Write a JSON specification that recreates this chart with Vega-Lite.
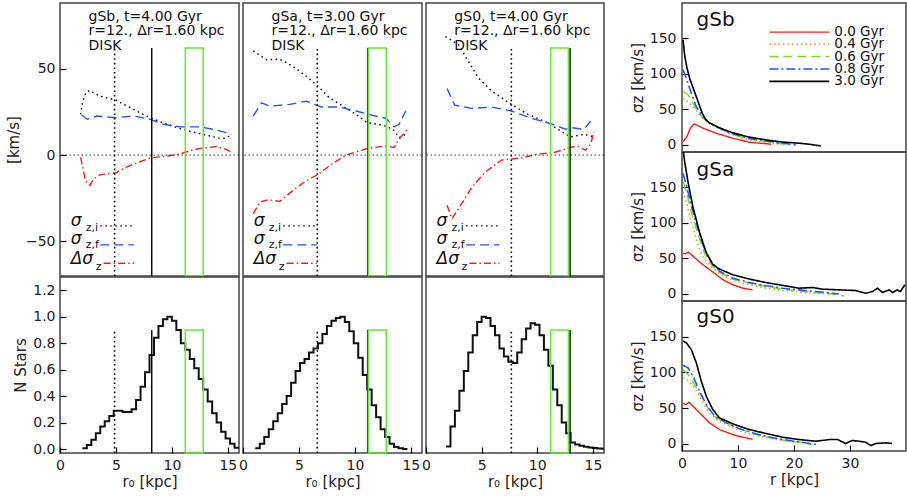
{
"$schema":"https://vega.github.io/schema/vega-lite/v6.json",
"padding":{"left":5,"top":2,"right":0,"bottom":0},
"background":"white",
"config":{
 "view":{"stroke":"#444","strokeWidth":1.5},
 "font":"DejaVu Sans",
 "text":{"font":"DejaVu Sans","color":"#111"},
 "axis":{"domain":false,"grid":false,"ticks":true,"labelFont":"DejaVu Sans","labelFontSize":14,"labelColor":"#222","titleFont":"DejaVu Sans","titleFontSize":15,"titleFontWeight":"normal","titleColor":"#222","tickColor":"#000","tickWidth":1.2,"tickOpacity":1}
},
"datasets":{
 "prof":[
  {"p":"gSb","s":"i","x":1.84,"y":23.5},{"p":"gSb","s":"i","x":2.0,"y":30},{"p":"gSb","s":"i","x":2.3,"y":36},{"p":"gSb","s":"i","x":2.67,"y":37.5},{"p":"gSb","s":"i","x":3.0,"y":36},{"p":"gSb","s":"i","x":3.62,"y":34},{"p":"gSb","s":"i","x":4.95,"y":32},{"p":"gSb","s":"i","x":5.8,"y":29},{"p":"gSb","s":"i","x":6.58,"y":26.4},{"p":"gSb","s":"i","x":7.3,"y":24},{"p":"gSb","s":"i","x":8.06,"y":21.6},{"p":"gSb","s":"i","x":8.95,"y":19.3},{"p":"gSb","s":"i","x":9.7,"y":17.5},{"p":"gSb","s":"i","x":10.43,"y":15.9},{"p":"gSb","s":"i","x":11.5,"y":14},{"p":"gSb","s":"i","x":12.5,"y":12.4},{"p":"gSb","s":"i","x":13.3,"y":11.2},{"p":"gSb","s":"i","x":13.99,"y":10.1},{"p":"gSb","s":"i","x":14.5,"y":9.6},{"p":"gSb","s":"i","x":14.88,"y":9.8},{"p":"gSb","s":"i","x":15.3,"y":12},
  {"p":"gSb","s":"f","x":1.93,"y":23.2},{"p":"gSb","s":"f","x":2.43,"y":20.7},{"p":"gSb","s":"f","x":3.32,"y":22.6},{"p":"gSb","s":"f","x":4.95,"y":21.6},{"p":"gSb","s":"f","x":6.58,"y":22.6},{"p":"gSb","s":"f","x":8.06,"y":20.7},{"p":"gSb","s":"f","x":9.24,"y":17.8},{"p":"gSb","s":"f","x":10.73,"y":16.3},{"p":"gSb","s":"f","x":12.5,"y":16.3},{"p":"gSb","s":"f","x":13.7,"y":14.9},{"p":"gSb","s":"f","x":14.88,"y":13},{"p":"gSb","s":"f","x":15.3,"y":11.7},
  {"p":"gSb","s":"d","x":1.84,"y":-1.4},{"p":"gSb","s":"d","x":2.0,"y":-6},{"p":"gSb","s":"d","x":2.28,"y":-14.8},{"p":"gSb","s":"d","x":2.67,"y":-17.6},{"p":"gSb","s":"d","x":3.02,"y":-13.8},{"p":"gSb","s":"d","x":3.62,"y":-11.3},{"p":"gSb","s":"d","x":4.95,"y":-10.4},{"p":"gSb","s":"d","x":5.8,"y":-7.5},{"p":"gSb","s":"d","x":6.58,"y":-5.2},{"p":"gSb","s":"d","x":8.06,"y":-1.7},{"p":"gSb","s":"d","x":9.55,"y":-0.6},{"p":"gSb","s":"d","x":10.73,"y":0.6},{"p":"gSb","s":"d","x":11.61,"y":2.5},{"p":"gSb","s":"d","x":12.5,"y":3.8},{"p":"gSb","s":"d","x":13.99,"y":4.9},{"p":"gSb","s":"d","x":14.88,"y":3.3},{"p":"gSb","s":"d","x":15.3,"y":1.5},
  {"p":"gSa","s":"i","x":0.92,"y":60.3},{"p":"gSa","s":"i","x":2.1,"y":55.2},{"p":"gSa","s":"i","x":3.29,"y":55.5},{"p":"gSa","s":"i","x":4.47,"y":51.3},{"p":"gSa","s":"i","x":5.66,"y":45.6},{"p":"gSa","s":"i","x":6.7,"y":39.8},{"p":"gSa","s":"i","x":7.73,"y":33.1},{"p":"gSa","s":"i","x":8.92,"y":28.3},{"p":"gSa","s":"i","x":10.1,"y":23.6},{"p":"gSa","s":"i","x":11.1,"y":18.7},{"p":"gSa","s":"i","x":12.5,"y":17.4},{"p":"gSa","s":"i","x":13.4,"y":14.9},{"p":"gSa","s":"i","x":13.95,"y":10.1},{"p":"gSa","s":"i","x":14.55,"y":12},
  {"p":"gSa","s":"f","x":0.92,"y":22.6},{"p":"gSa","s":"f","x":1.66,"y":30.2},{"p":"gSa","s":"f","x":2.4,"y":28.3},{"p":"gSa","s":"f","x":4.18,"y":29.3},{"p":"gSa","s":"f","x":5.66,"y":31.2},{"p":"gSa","s":"f","x":7.0,"y":27.8},{"p":"gSa","s":"f","x":8.62,"y":27.8},{"p":"gSa","s":"f","x":10.1,"y":25.5},{"p":"gSa","s":"f","x":11.58,"y":23},{"p":"gSa","s":"f","x":12.77,"y":21.3},{"p":"gSa","s":"f","x":13.5,"y":16.3},{"p":"gSa","s":"f","x":13.95,"y":17.8},{"p":"gSa","s":"f","x":14.55,"y":25.5},
  {"p":"gSa","s":"d","x":0.92,"y":-33.9},{"p":"gSa","s":"d","x":1.51,"y":-27.2},{"p":"gSa","s":"d","x":2.25,"y":-25.9},{"p":"gSa","s":"d","x":3.29,"y":-26.8},{"p":"gSa","s":"d","x":4.47,"y":-20.5},{"p":"gSa","s":"d","x":5.66,"y":-14.8},{"p":"gSa","s":"d","x":6.7,"y":-11.3},{"p":"gSa","s":"d","x":7.73,"y":-6.1},{"p":"gSa","s":"d","x":9.2,"y":0},{"p":"gSa","s":"d","x":11.1,"y":3.8},{"p":"gSa","s":"d","x":12.77,"y":5.3},{"p":"gSa","s":"d","x":13.5,"y":4.4},{"p":"gSa","s":"d","x":13.95,"y":9.2},{"p":"gSa","s":"d","x":14.7,"y":14.9},
  {"p":"gS0","s":"i","x":1.75,"y":68.6},{"p":"gS0","s":"i","x":2.93,"y":63.8},{"p":"gS0","s":"i","x":3.82,"y":54.2},{"p":"gS0","s":"i","x":4.71,"y":44.6},{"p":"gS0","s":"i","x":5.9,"y":37},{"p":"gS0","s":"i","x":7.67,"y":29.3},{"p":"gS0","s":"i","x":9.16,"y":23.6},{"p":"gS0","s":"i","x":10.93,"y":18.7},{"p":"gS0","s":"i","x":12.56,"y":12.1},{"p":"gS0","s":"i","x":13.0,"y":10.5},{"p":"gS0","s":"i","x":14.2,"y":12},{"p":"gS0","s":"i","x":14.8,"y":11.1},{"p":"gS0","s":"i","x":15.2,"y":10.1},
  {"p":"gS0","s":"f","x":1.89,"y":38.5},{"p":"gS0","s":"f","x":2.58,"y":28.9},{"p":"gS0","s":"f","x":4.12,"y":27},{"p":"gS0","s":"f","x":5.9,"y":27.8},{"p":"gS0","s":"f","x":7.67,"y":25.5},{"p":"gS0","s":"f","x":9.45,"y":21.3},{"p":"gS0","s":"f","x":11.23,"y":18.2},{"p":"gS0","s":"f","x":12.56,"y":14.9},{"p":"gS0","s":"f","x":13.0,"y":15.9},{"p":"gS0","s":"f","x":14.2,"y":14.9},{"p":"gS0","s":"f","x":14.8,"y":19.7},
  {"p":"gS0","s":"d","x":1.89,"y":-29.1},{"p":"gS0","s":"d","x":2.34,"y":-36.8},{"p":"gS0","s":"d","x":2.93,"y":-31},{"p":"gS0","s":"d","x":4.12,"y":-18.6},{"p":"gS0","s":"d","x":5.3,"y":-10},{"p":"gS0","s":"d","x":6.78,"y":-2.9},{"p":"gS0","s":"d","x":7.67,"y":-2.3},{"p":"gS0","s":"d","x":8.56,"y":-1.7},{"p":"gS0","s":"d","x":10.04,"y":0.6},{"p":"gS0","s":"d","x":11.53,"y":1.5},{"p":"gS0","s":"d","x":13.0,"y":4.4},{"p":"gS0","s":"d","x":13.6,"y":5.3},{"p":"gS0","s":"d","x":14.34,"y":2.9},{"p":"gS0","s":"d","x":14.8,"y":6.3},{"p":"gS0","s":"d","x":15.1,"y":13.6}
 ],
 "vl":[
  {"p":"gSb","k":"dot","x":4.88},{"p":"gSb","k":"solid","x":8.2},
  {"p":"gSa","k":"dot","x":6.64},{"p":"gSa","k":"solid","x":11.14},
  {"p":"gS0","k":"dot","x":7.67},{"p":"gS0","k":"solid","x":12.95}
 ],
 "hdr":[
  {"p":"gSb","y":80,"t":"gSb, t=4.00 Gyr"},{"p":"gSb","y":71.6,"t":"r=12., Δr=1.60 kpc"},{"p":"gSb","y":63.2,"t":"DISK"},
  {"p":"gSa","y":80,"t":"gSa, t=3.00 Gyr"},{"p":"gSa","y":71.6,"t":"r=12., Δr=1.60 kpc"},{"p":"gSa","y":63.2,"t":"DISK"},
  {"p":"gS0","y":80,"t":"gS0, t=4.00 Gyr"},{"p":"gS0","y":71.6,"t":"r=12., Δr=1.60 kpc"},{"p":"gS0","y":63.2,"t":"DISK"}
 ],
 "lgdbig":[{"x":0.95,"y":-38.2,"t":"σ"},{"x":0.95,"y":-48.4,"t":"σ"},{"x":0.95,"y":-60.0,"t":"Δσ"}],
 "lgdsub":[{"x":2.3,"y":-42.3,"t":"z,i"},{"x":2.3,"y":-52.0,"t":"z,f"},{"x":3.2,"y":-64.6,"t":"z"}],
 "lgdline":[{"s":"i","x":3.6,"x2":6.6,"y":-41},{"s":"f","x":3.6,"x2":6.6,"y":-52},{"s":"d","x":3.9,"x2":6.6,"y":-62.6}],
 "hist":[
  {"p":"gSb","x":2.0,"n":0.005},{"p":"gSb","x":2.4,"n":0.03},{"p":"gSb","x":2.8,"n":0.07},{"p":"gSb","x":3.2,"n":0.12},{"p":"gSb","x":3.6,"n":0.17},{"p":"gSb","x":4.0,"n":0.21},{"p":"gSb","x":4.4,"n":0.25},{"p":"gSb","x":4.8,"n":0.29},{"p":"gSb","x":5.2,"n":0.29},{"p":"gSb","x":5.6,"n":0.28},{"p":"gSb","x":6.0,"n":0.28},{"p":"gSb","x":6.4,"n":0.30},{"p":"gSb","x":6.8,"n":0.37},{"p":"gSb","x":7.2,"n":0.47},{"p":"gSb","x":7.6,"n":0.58},{"p":"gSb","x":8.0,"n":0.71},{"p":"gSb","x":8.4,"n":0.84},{"p":"gSb","x":8.8,"n":0.93},{"p":"gSb","x":9.2,"n":0.98},{"p":"gSb","x":9.6,"n":1.0},{"p":"gSb","x":10.0,"n":0.97},{"p":"gSb","x":10.4,"n":0.90},{"p":"gSb","x":10.8,"n":0.80},{"p":"gSb","x":11.2,"n":0.75},{"p":"gSb","x":11.6,"n":0.68},{"p":"gSb","x":12.0,"n":0.61},{"p":"gSb","x":12.4,"n":0.53},{"p":"gSb","x":12.8,"n":0.45},{"p":"gSb","x":13.2,"n":0.36},{"p":"gSb","x":13.6,"n":0.27},{"p":"gSb","x":14.0,"n":0.20},{"p":"gSb","x":14.4,"n":0.13},{"p":"gSb","x":14.8,"n":0.08},{"p":"gSb","x":15.2,"n":0.04},{"p":"gSb","x":15.6,"n":0.01},{"p":"gSb","x":16.0,"n":0.01},
  {"p":"gSa","x":1.1,"n":0.005},{"p":"gSa","x":1.5,"n":0.04},{"p":"gSa","x":1.9,"n":0.09},{"p":"gSa","x":2.3,"n":0.15},{"p":"gSa","x":2.7,"n":0.21},{"p":"gSa","x":3.1,"n":0.27},{"p":"gSa","x":3.5,"n":0.34},{"p":"gSa","x":3.9,"n":0.40},{"p":"gSa","x":4.3,"n":0.50},{"p":"gSa","x":4.7,"n":0.59},{"p":"gSa","x":5.1,"n":0.65},{"p":"gSa","x":5.5,"n":0.68},{"p":"gSa","x":5.9,"n":0.73},{"p":"gSa","x":6.3,"n":0.76},{"p":"gSa","x":6.7,"n":0.80},{"p":"gSa","x":7.1,"n":0.87},{"p":"gSa","x":7.5,"n":0.93},{"p":"gSa","x":7.9,"n":0.97},{"p":"gSa","x":8.3,"n":0.99},{"p":"gSa","x":8.7,"n":1.0},{"p":"gSa","x":9.1,"n":0.96},{"p":"gSa","x":9.5,"n":0.89},{"p":"gSa","x":9.9,"n":0.80},{"p":"gSa","x":10.3,"n":0.69},{"p":"gSa","x":10.7,"n":0.56},{"p":"gSa","x":11.1,"n":0.45},{"p":"gSa","x":11.5,"n":0.33},{"p":"gSa","x":11.9,"n":0.24},{"p":"gSa","x":12.3,"n":0.15},{"p":"gSa","x":12.7,"n":0.09},{"p":"gSa","x":13.1,"n":0.04},{"p":"gSa","x":13.5,"n":0.015},{"p":"gSa","x":13.9,"n":0.005},{"p":"gSa","x":14.3,"n":0.0},{"p":"gSa","x":14.7,"n":0.0},
  {"p":"gS0","x":1.8,"n":0.02},{"p":"gS0","x":2.2,"n":0.17},{"p":"gS0","x":2.6,"n":0.29},{"p":"gS0","x":3.0,"n":0.44},{"p":"gS0","x":3.4,"n":0.59},{"p":"gS0","x":3.8,"n":0.73},{"p":"gS0","x":4.2,"n":0.86},{"p":"gS0","x":4.6,"n":0.96},{"p":"gS0","x":5.0,"n":1.0},{"p":"gS0","x":5.4,"n":0.99},{"p":"gS0","x":5.8,"n":0.93},{"p":"gS0","x":6.2,"n":0.86},{"p":"gS0","x":6.6,"n":0.76},{"p":"gS0","x":7.0,"n":0.70},{"p":"gS0","x":7.4,"n":0.66},{"p":"gS0","x":7.8,"n":0.65},{"p":"gS0","x":8.2,"n":0.73},{"p":"gS0","x":8.6,"n":0.83},{"p":"gS0","x":9.0,"n":0.91},{"p":"gS0","x":9.4,"n":0.95},{"p":"gS0","x":9.8,"n":0.94},{"p":"gS0","x":10.2,"n":0.86},{"p":"gS0","x":10.6,"n":0.75},{"p":"gS0","x":11.0,"n":0.63},{"p":"gS0","x":11.4,"n":0.45},{"p":"gS0","x":11.8,"n":0.33},{"p":"gS0","x":12.2,"n":0.20},{"p":"gS0","x":12.6,"n":0.12},{"p":"gS0","x":13.0,"n":0.05},{"p":"gS0","x":13.4,"n":0.035},{"p":"gS0","x":13.8,"n":0.025},{"p":"gS0","x":14.2,"n":0.018},{"p":"gS0","x":14.6,"n":0.012},{"p":"gS0","x":15.0,"n":0.008},{"p":"gS0","x":15.4,"n":0.004},{"p":"gS0","x":15.8,"n":0.002},{"p":"gS0","x":16.2,"n":0.002}
 ],
 "rad":[
  {"g":"gSb","t":"0.0","r":0.18,"v":4.7},{"g":"gSb","t":"0.0","r":0.9,"v":11.8},{"g":"gSb","t":"0.0","r":1.48,"v":23.6},{"g":"gSb","t":"0.0","r":2.08,"v":29.2},{"g":"gSb","t":"0.0","r":2.55,"v":28.3},{"g":"gSb","t":"0.0","r":3.74,"v":23.6},{"g":"gSb","t":"0.0","r":6.1,"v":16.5},{"g":"gSb","t":"0.0","r":9.07,"v":9.4},{"g":"gSb","t":"0.0","r":12.0,"v":3.8},{"g":"gSb","t":"0.0","r":15.9,"v":1},
  {"g":"gSb","t":"0.4","r":0.18,"v":66},{"g":"gSb","t":"0.4","r":1.07,"v":61},{"g":"gSb","t":"0.4","r":1.96,"v":54},{"g":"gSb","t":"0.4","r":3.14,"v":42.5},{"g":"gSb","t":"0.4","r":4.33,"v":33},{"g":"gSb","t":"0.4","r":6.7,"v":22},{"g":"gSb","t":"0.4","r":9.07,"v":14},{"g":"gSb","t":"0.4","r":12.0,"v":7},{"g":"gSb","t":"0.4","r":15.0,"v":3.3},{"g":"gSb","t":"0.4","r":17.4,"v":0.5},
  {"g":"gSb","t":"0.6","r":0.18,"v":75.5},{"g":"gSb","t":"0.6","r":1.07,"v":70.8},{"g":"gSb","t":"0.6","r":1.96,"v":59},{"g":"gSb","t":"0.6","r":2.85,"v":47},{"g":"gSb","t":"0.6","r":3.74,"v":37.7},{"g":"gSb","t":"0.6","r":5.5,"v":28.3},{"g":"gSb","t":"0.6","r":9.07,"v":14.5},{"g":"gSb","t":"0.6","r":12.0,"v":8},{"g":"gSb","t":"0.6","r":15.0,"v":4.7},{"g":"gSb","t":"0.6","r":18.0,"v":1.4},{"g":"gSb","t":"0.6","r":19.2,"v":0},
  {"g":"gSb","t":"0.8","r":0.18,"v":106},{"g":"gSb","t":"0.8","r":0.77,"v":94},{"g":"gSb","t":"0.8","r":1.66,"v":73},{"g":"gSb","t":"0.8","r":2.55,"v":54},{"g":"gSb","t":"0.8","r":3.44,"v":42.5},{"g":"gSb","t":"0.8","r":4.92,"v":30.7},{"g":"gSb","t":"0.8","r":6.7,"v":23.6},{"g":"gSb","t":"0.8","r":9.07,"v":15.6},{"g":"gSb","t":"0.8","r":12.0,"v":9.4},{"g":"gSb","t":"0.8","r":15.0,"v":5.7},{"g":"gSb","t":"0.8","r":18.0,"v":2.4},{"g":"gSb","t":"0.8","r":20.3,"v":0},
  {"g":"gSb","t":"3.0","r":0.18,"v":148},{"g":"gSb","t":"3.0","r":0.5,"v":125},{"g":"gSb","t":"3.0","r":0.9,"v":108},{"g":"gSb","t":"3.0","r":1.4,"v":93},{"g":"gSb","t":"3.0","r":2.0,"v":80},{"g":"gSb","t":"3.0","r":2.6,"v":67},{"g":"gSb","t":"3.0","r":3.1,"v":56},{"g":"gSb","t":"3.0","r":3.6,"v":45},{"g":"gSb","t":"3.0","r":4.2,"v":36},{"g":"gSb","t":"3.0","r":4.9,"v":31},{"g":"gSb","t":"3.0","r":6.7,"v":24},{"g":"gSb","t":"3.0","r":9.07,"v":17},{"g":"gSb","t":"3.0","r":12.0,"v":11},{"g":"gSb","t":"3.0","r":15.0,"v":7},{"g":"gSb","t":"3.0","r":18.0,"v":4},{"g":"gSb","t":"3.0","r":20.9,"v":2.4},{"g":"gSb","t":"3.0","r":22.7,"v":1},{"g":"gSb","t":"3.0","r":24.8,"v":-1.5},
  {"g":"gSa","t":"0.0","r":0.18,"v":57},{"g":"gSa","t":"0.0","r":0.65,"v":56.7},{"g":"gSa","t":"0.0","r":1.07,"v":59},{"g":"gSa","t":"0.0","r":1.96,"v":53.3},{"g":"gSa","t":"0.0","r":3.14,"v":44.8},{"g":"gSa","t":"0.0","r":4.92,"v":34.3},{"g":"gSa","t":"0.0","r":7.3,"v":20},{"g":"gSa","t":"0.0","r":9.07,"v":12.9},{"g":"gSa","t":"0.0","r":10.85,"v":8},{"g":"gSa","t":"0.0","r":12.6,"v":5.7},
  {"g":"gSa","t":"0.4","r":0.18,"v":144},{"g":"gSa","t":"0.4","r":0.9,"v":125},{"g":"gSa","t":"0.4","r":1.66,"v":101},{"g":"gSa","t":"0.4","r":2.85,"v":67.6},{"g":"gSa","t":"0.4","r":4.0,"v":48.6},{"g":"gSa","t":"0.4","r":5.5,"v":36.7},{"g":"gSa","t":"0.4","r":6.7,"v":28.6},{"g":"gSa","t":"0.4","r":9.07,"v":19},{"g":"gSa","t":"0.4","r":12.0,"v":13},{"g":"gSa","t":"0.4","r":15.0,"v":8},{"g":"gSa","t":"0.4","r":18.0,"v":4.8},{"g":"gSa","t":"0.4","r":20.9,"v":2.4},{"g":"gSa","t":"0.4","r":23.9,"v":1},{"g":"gSa","t":"0.4","r":26.9,"v":0},
  {"g":"gSa","t":"0.6","r":0.18,"v":158},{"g":"gSa","t":"0.6","r":0.77,"v":144},{"g":"gSa","t":"0.6","r":1.66,"v":115},{"g":"gSa","t":"0.6","r":2.85,"v":84},{"g":"gSa","t":"0.6","r":4.0,"v":58},{"g":"gSa","t":"0.6","r":5.2,"v":41.4},{"g":"gSa","t":"0.6","r":6.7,"v":30.5},{"g":"gSa","t":"0.6","r":9.07,"v":21},{"g":"gSa","t":"0.6","r":12.0,"v":15},{"g":"gSa","t":"0.6","r":15.0,"v":10.5},{"g":"gSa","t":"0.6","r":18.0,"v":6.7},{"g":"gSa","t":"0.6","r":20.9,"v":4.3},{"g":"gSa","t":"0.6","r":23.9,"v":2},{"g":"gSa","t":"0.6","r":26.9,"v":0},{"g":"gSa","t":"0.6","r":28.9,"v":-3},
  {"g":"gSa","t":"0.8","r":0.18,"v":170},{"g":"gSa","t":"0.8","r":0.77,"v":153},{"g":"gSa","t":"0.8","r":1.66,"v":124.8},{"g":"gSa","t":"0.8","r":2.85,"v":91.4},{"g":"gSa","t":"0.8","r":4.0,"v":62.9},{"g":"gSa","t":"0.8","r":5.2,"v":46.2},{"g":"gSa","t":"0.8","r":6.7,"v":32},{"g":"gSa","t":"0.8","r":9.07,"v":22},{"g":"gSa","t":"0.8","r":12.0,"v":16},{"g":"gSa","t":"0.8","r":15.0,"v":11.4},{"g":"gSa","t":"0.8","r":18.0,"v":8},{"g":"gSa","t":"0.8","r":20.9,"v":5.7},{"g":"gSa","t":"0.8","r":23.9,"v":3.3},{"g":"gSa","t":"0.8","r":26.9,"v":1},{"g":"gSa","t":"0.8","r":28.0,"v":0},
  {"g":"gSa","t":"3.0","r":0.18,"v":205},{"g":"gSa","t":"3.0","r":0.47,"v":186.7},{"g":"gSa","t":"3.0","r":1.07,"v":158},{"g":"gSa","t":"3.0","r":1.96,"v":122},{"g":"gSa","t":"3.0","r":3.14,"v":86.7},{"g":"gSa","t":"3.0","r":4.33,"v":58},{"g":"gSa","t":"3.0","r":5.5,"v":41.4},{"g":"gSa","t":"3.0","r":6.7,"v":35},{"g":"gSa","t":"3.0","r":9.07,"v":27},{"g":"gSa","t":"3.0","r":12.0,"v":21},{"g":"gSa","t":"3.0","r":15.0,"v":16},{"g":"gSa","t":"3.0","r":18.0,"v":12},{"g":"gSa","t":"3.0","r":20.9,"v":8},{"g":"gSa","t":"3.0","r":23.3,"v":9},{"g":"gSa","t":"3.0","r":25.1,"v":6.7},{"g":"gSa","t":"3.0","r":28.0,"v":5.7},{"g":"gSa","t":"3.0","r":31.0,"v":4.8},{"g":"gSa","t":"3.0","r":32.8,"v":1},{"g":"gSa","t":"3.0","r":34.0,"v":3.3},{"g":"gSa","t":"3.0","r":34.9,"v":8},{"g":"gSa","t":"3.0","r":35.8,"v":2},{"g":"gSa","t":"3.0","r":37.0,"v":5.7},{"g":"gSa","t":"3.0","r":37.6,"v":2},{"g":"gSa","t":"3.0","r":38.4,"v":5.7},{"g":"gSa","t":"3.0","r":39.0,"v":3.3},{"g":"gSa","t":"3.0","r":39.8,"v":12.9},
  {"g":"gS0","t":"0.0","r":0.18,"v":56.5},{"g":"gS0","t":"0.0","r":0.77,"v":55},{"g":"gS0","t":"0.0","r":1.25,"v":58.4},{"g":"gS0","t":"0.0","r":1.96,"v":52.8},{"g":"gS0","t":"0.0","r":3.14,"v":43.5},{"g":"gS0","t":"0.0","r":4.92,"v":29.4},{"g":"gS0","t":"0.0","r":6.7,"v":20},{"g":"gS0","t":"0.0","r":9.07,"v":13},{"g":"gS0","t":"0.0","r":10.85,"v":9.3},{"g":"gS0","t":"0.0","r":12.6,"v":6.5},
  {"g":"gS0","t":"0.4","r":0.18,"v":92.5},{"g":"gS0","t":"0.4","r":1.07,"v":89},{"g":"gS0","t":"0.4","r":2.25,"v":78.5},{"g":"gS0","t":"0.4","r":3.44,"v":62},{"g":"gS0","t":"0.4","r":4.63,"v":45.8},{"g":"gS0","t":"0.4","r":6.1,"v":34},{"g":"gS0","t":"0.4","r":8.5,"v":24.8},{"g":"gS0","t":"0.4","r":10.85,"v":16.4},{"g":"gS0","t":"0.4","r":13.8,"v":10.7},{"g":"gS0","t":"0.4","r":16.8,"v":6},{"g":"gS0","t":"0.4","r":19.8,"v":2.8},{"g":"gS0","t":"0.4","r":21.5,"v":1.4},
  {"g":"gS0","t":"0.6","r":0.18,"v":104},{"g":"gS0","t":"0.6","r":1.07,"v":97},{"g":"gS0","t":"0.6","r":2.25,"v":83},{"g":"gS0","t":"0.6","r":3.44,"v":66.8},{"g":"gS0","t":"0.6","r":4.63,"v":50.5},{"g":"gS0","t":"0.6","r":6.1,"v":36.4},{"g":"gS0","t":"0.6","r":7.9,"v":29.4},{"g":"gS0","t":"0.6","r":10.3,"v":21},{"g":"gS0","t":"0.6","r":13.2,"v":13},{"g":"gS0","t":"0.6","r":16.2,"v":7.5},{"g":"gS0","t":"0.6","r":19.2,"v":3.7},{"g":"gS0","t":"0.6","r":20.9,"v":2.3},{"g":"gS0","t":"0.6","r":23.3,"v":-1},
  {"g":"gS0","t":"0.8","r":0.18,"v":110},{"g":"gS0","t":"0.8","r":1.07,"v":106.5},{"g":"gS0","t":"0.8","r":1.96,"v":94.9},{"g":"gS0","t":"0.8","r":3.14,"v":73.8},{"g":"gS0","t":"0.8","r":4.33,"v":55},{"g":"gS0","t":"0.8","r":5.8,"v":38.8},{"g":"gS0","t":"0.8","r":7.9,"v":29.4},{"g":"gS0","t":"0.8","r":10.3,"v":21},{"g":"gS0","t":"0.8","r":13.2,"v":14},{"g":"gS0","t":"0.8","r":16.2,"v":8.4},{"g":"gS0","t":"0.8","r":19.2,"v":4.7},{"g":"gS0","t":"0.8","r":20.9,"v":2.8},{"g":"gS0","t":"0.8","r":23.9,"v":-1},
  {"g":"gS0","t":"3.0","r":0.18,"v":144},{"g":"gS0","t":"3.0","r":0.77,"v":141.6},{"g":"gS0","t":"3.0","r":1.66,"v":132},{"g":"gS0","t":"3.0","r":2.55,"v":113.6},{"g":"gS0","t":"3.0","r":3.44,"v":87.9},{"g":"gS0","t":"3.0","r":4.33,"v":66.8},{"g":"gS0","t":"3.0","r":5.5,"v":48},{"g":"gS0","t":"3.0","r":6.7,"v":36.4},{"g":"gS0","t":"3.0","r":9.07,"v":28},{"g":"gS0","t":"3.0","r":12.0,"v":20},{"g":"gS0","t":"3.0","r":15.0,"v":14.5},{"g":"gS0","t":"3.0","r":18.0,"v":9.3},{"g":"gS0","t":"3.0","r":20.9,"v":6},{"g":"gS0","t":"3.0","r":23.9,"v":3.7},{"g":"gS0","t":"3.0","r":26.3,"v":6},{"g":"gS0","t":"3.0","r":27.8,"v":6},{"g":"gS0","t":"3.0","r":29.2,"v":0.5},{"g":"gS0","t":"3.0","r":30.4,"v":4.7},{"g":"gS0","t":"3.0","r":31.6,"v":3.7},{"g":"gS0","t":"3.0","r":32.8,"v":2.3},{"g":"gS0","t":"3.0","r":33.7,"v":-2.3},{"g":"gS0","t":"3.0","r":34.6,"v":0.5},{"g":"gS0","t":"3.0","r":36.4,"v":1.4},{"g":"gS0","t":"3.0","r":37.5,"v":0.5}
 ],
 "rleg":[{"t":"0.0","y":159,"label":"0.0 Gyr"},{"t":"0.4","y":142,"label":"0.4 Gyr"},{"t":"0.6","y":124.5,"label":"0.6 Gyr"},{"t":"0.8","y":107,"label":"0.8 Gyr"},{"t":"3.0","y":89.5,"label":"3.0 Gyr"}]
},
"spacing":23,
"resolve":{"scale":{"x":"independent","y":"independent","color":"independent","strokeDash":"independent","strokeWidth":"independent"}},
"hconcat":[
 {"columns":3,"spacing":{"row":1,"column":4},"bounds":"flush",
  "resolve":{"scale":{"x":"independent","y":"independent","color":"independent","strokeDash":"independent"}},
  "concat":[
   {"width":179,"height":273,"layer":[
    {"data":{"name":"prof"},"transform":[{"filter":"datum.p==='gSb'"}],"mark":{"type":"line","strokeWidth":1.4,"clip":true},
     "encoding":{"x":{"field":"x","type":"quantitative","scale":{"domain":[0,16],"nice":false,"zero":false},"axis":null},
      "y":{"field":"y","type":"quantitative","scale":{"domain":[-70,88],"nice":false,"zero":false},"axis":{"values":[-50,0,50],"title":"[km/s]","tickSize":6,"offset":-6,"tickColor":"black","labelPadding":5,"labelOverlap":false}},
      "color":{"field":"s","type":"nominal","scale":{"domain":["i","f","d"],"range":["#000000","#2352ff","#ff1c1c"]},"legend":null},
      "strokeDash":{"field":"s","type":"nominal","scale":{"domain":["i","f","d"],"range":[[1.5,3.5],[9,5],[7,3,1.5,3]]},"legend":null}}},
    {"data":{"values":[{}]},"mark":{"type":"rule","color":"#000","strokeWidth":0.8,"strokeDash":[1.5,2.5]},"encoding":{"y":{"datum":0}}},
    {"data":{"name":"vl"},"transform":[{"filter":"datum.p==='gSb' && datum.k==='dot'"}],"mark":{"type":"rule","color":"#000","strokeWidth":1.6,"strokeDash":[1.6,3]},"encoding":{"x":{"field":"x","type":"quantitative"},"y":{"datum":-70},"y2":{"datum":62}}},
    {"data":{"name":"vl"},"transform":[{"filter":"datum.p==='gSb' && datum.k==='solid'"}],"mark":{"type":"rule","color":"#000","strokeWidth":1.4},"encoding":{"x":{"field":"x","type":"quantitative"},"y":{"datum":-70},"y2":{"datum":62}}},
    {"data":{"values":[{}]},"mark":{"type":"rect","filled":false,"color":"#5ef02a","strokeWidth":1.5},"encoding":{"x":{"datum":11.2},"x2":{"datum":12.8},"y":{"datum":-70},"y2":{"datum":62}}},
    {"data":{"name":"hdr"},"transform":[{"filter":"datum.p==='gSb'"}],"mark":{"type":"text","align":"left","baseline":"middle","fontSize":14},"encoding":{"x":{"datum":2.55},"y":{"field":"y","type":"quantitative"},"text":{"field":"t"}}},
    {"data":{"name":"lgdbig"},"mark":{"type":"text","align":"left","baseline":"middle","fontSize":17,"fontStyle":"italic"},"encoding":{"x":{"field":"x","type":"quantitative"},"y":{"field":"y","type":"quantitative"},"text":{"field":"t"}}},
    {"data":{"name":"lgdsub"},"mark":{"type":"text","align":"left","baseline":"middle","fontSize":11},"encoding":{"x":{"field":"x","type":"quantitative"},"y":{"field":"y","type":"quantitative"},"text":{"field":"t"}}},
    {"data":{"name":"lgdline"},"mark":{"type":"rule","strokeWidth":1.4},"encoding":{"x":{"field":"x","type":"quantitative"},"x2":{"field":"x2"},"y":{"field":"y","type":"quantitative"},"color":{"field":"s","type":"nominal","legend":null},"strokeDash":{"field":"s","type":"nominal","legend":null}}}
   ]},
   {"width":179,"height":273,"layer":[
    {"data":{"name":"prof"},"transform":[{"filter":"datum.p==='gSa'"}],"mark":{"type":"line","strokeWidth":1.4,"clip":true},
     "encoding":{"x":{"field":"x","type":"quantitative","scale":{"domain":[0,16],"nice":false,"zero":false},"axis":null},
      "y":{"field":"y","type":"quantitative","scale":{"domain":[-70,88],"nice":false,"zero":false},"axis":null},
      "color":{"field":"s","type":"nominal","scale":{"domain":["i","f","d"],"range":["#000000","#2352ff","#ff1c1c"]},"legend":null},
      "strokeDash":{"field":"s","type":"nominal","scale":{"domain":["i","f","d"],"range":[[1.5,3.5],[9,5],[7,3,1.5,3]]},"legend":null}}},
    {"data":{"values":[{}]},"mark":{"type":"rule","color":"#000","strokeWidth":0.8,"strokeDash":[1.5,2.5]},"encoding":{"y":{"datum":0}}},
    {"data":{"name":"vl"},"transform":[{"filter":"datum.p==='gSa' && datum.k==='dot'"}],"mark":{"type":"rule","color":"#000","strokeWidth":1.6,"strokeDash":[1.6,3]},"encoding":{"x":{"field":"x","type":"quantitative"},"y":{"datum":-70},"y2":{"datum":62}}},
    {"data":{"name":"vl"},"transform":[{"filter":"datum.p==='gSa' && datum.k==='solid'"}],"mark":{"type":"rule","color":"#000","strokeWidth":1.4},"encoding":{"x":{"field":"x","type":"quantitative"},"y":{"datum":-70},"y2":{"datum":62}}},
    {"data":{"values":[{}]},"mark":{"type":"rect","filled":false,"color":"#5ef02a","strokeWidth":1.5},"encoding":{"x":{"datum":11.2},"x2":{"datum":12.8},"y":{"datum":-70},"y2":{"datum":62}}},
    {"data":{"name":"hdr"},"transform":[{"filter":"datum.p==='gSa'"}],"mark":{"type":"text","align":"left","baseline":"middle","fontSize":14},"encoding":{"x":{"datum":2.55},"y":{"field":"y","type":"quantitative"},"text":{"field":"t"}}},
    {"data":{"name":"lgdbig"},"mark":{"type":"text","align":"left","baseline":"middle","fontSize":17,"fontStyle":"italic"},"encoding":{"x":{"field":"x","type":"quantitative"},"y":{"field":"y","type":"quantitative"},"text":{"field":"t"}}},
    {"data":{"name":"lgdsub"},"mark":{"type":"text","align":"left","baseline":"middle","fontSize":11},"encoding":{"x":{"field":"x","type":"quantitative"},"y":{"field":"y","type":"quantitative"},"text":{"field":"t"}}},
    {"data":{"name":"lgdline"},"mark":{"type":"rule","strokeWidth":1.4},"encoding":{"x":{"field":"x","type":"quantitative"},"x2":{"field":"x2"},"y":{"field":"y","type":"quantitative"},"color":{"field":"s","type":"nominal","legend":null},"strokeDash":{"field":"s","type":"nominal","legend":null}}}
   ]},
   {"width":178,"height":273,"layer":[
    {"data":{"name":"prof"},"transform":[{"filter":"datum.p==='gS0'"}],"mark":{"type":"line","strokeWidth":1.4,"clip":true},
     "encoding":{"x":{"field":"x","type":"quantitative","scale":{"domain":[0,16],"nice":false,"zero":false},"axis":null},
      "y":{"field":"y","type":"quantitative","scale":{"domain":[-70,88],"nice":false,"zero":false},"axis":null},
      "color":{"field":"s","type":"nominal","scale":{"domain":["i","f","d"],"range":["#000000","#2352ff","#ff1c1c"]},"legend":null},
      "strokeDash":{"field":"s","type":"nominal","scale":{"domain":["i","f","d"],"range":[[1.5,3.5],[9,5],[7,3,1.5,3]]},"legend":null}}},
    {"data":{"values":[{}]},"mark":{"type":"rule","color":"#000","strokeWidth":0.8,"strokeDash":[1.5,2.5]},"encoding":{"y":{"datum":0}}},
    {"data":{"name":"vl"},"transform":[{"filter":"datum.p==='gS0' && datum.k==='dot'"}],"mark":{"type":"rule","color":"#000","strokeWidth":1.6,"strokeDash":[1.6,3]},"encoding":{"x":{"field":"x","type":"quantitative"},"y":{"datum":-70},"y2":{"datum":62}}},
    {"data":{"name":"vl"},"transform":[{"filter":"datum.p==='gS0' && datum.k==='solid'"}],"mark":{"type":"rule","color":"#000","strokeWidth":1.4},"encoding":{"x":{"field":"x","type":"quantitative"},"y":{"datum":-70},"y2":{"datum":62}}},
    {"data":{"values":[{}]},"mark":{"type":"rect","filled":false,"color":"#5ef02a","strokeWidth":1.5},"encoding":{"x":{"datum":11.2},"x2":{"datum":12.8},"y":{"datum":-70},"y2":{"datum":62}}},
    {"data":{"name":"hdr"},"transform":[{"filter":"datum.p==='gS0'"}],"mark":{"type":"text","align":"left","baseline":"middle","fontSize":14},"encoding":{"x":{"datum":2.55},"y":{"field":"y","type":"quantitative"},"text":{"field":"t"}}},
    {"data":{"name":"lgdbig"},"mark":{"type":"text","align":"left","baseline":"middle","fontSize":17,"fontStyle":"italic"},"encoding":{"x":{"field":"x","type":"quantitative"},"y":{"field":"y","type":"quantitative"},"text":{"field":"t"}}},
    {"data":{"name":"lgdsub"},"mark":{"type":"text","align":"left","baseline":"middle","fontSize":11},"encoding":{"x":{"field":"x","type":"quantitative"},"y":{"field":"y","type":"quantitative"},"text":{"field":"t"}}},
    {"data":{"name":"lgdline"},"mark":{"type":"rule","strokeWidth":1.4},"encoding":{"x":{"field":"x","type":"quantitative"},"x2":{"field":"x2"},"y":{"field":"y","type":"quantitative"},"color":{"field":"s","type":"nominal","legend":null},"strokeDash":{"field":"s","type":"nominal","legend":null}}}
   ]},
   {"width":179,"height":176,"resolve":{"axis":{"y":"independent"}},"layer":[
    {"data":{"name":"hist"},"transform":[{"filter":"datum.p==='gSb'"}],"mark":{"type":"line","interpolate":"step-after","color":"#111","strokeWidth":2,"clip":true},
     "encoding":{"x":{"field":"x","type":"quantitative","scale":{"domain":[0,16],"nice":false,"zero":false},"axis":{"values":[0,5,10,15],"title":"r₀ [kpc]","tickSize":6,"offset":-6,"tickColor":"black","labelPadding":5,"labelFlush":false,"titlePadding":2}},
      "y":{"field":"n","type":"quantitative","scale":{"domain":[-0.03,1.3],"nice":false,"zero":false},"axis":{"orient":"left","values":[0,0.4,0.8,1.2],"format":".1f","title":"N Stars","tickSize":6,"offset":-6,"tickColor":"black","labelPadding":5,"labelFlush":false}}}},
    {"data":{"name":"hist"},"transform":[{"filter":"datum.p==='gSb'"}],"mark":{"type":"line","interpolate":"step-after","opacity":0},
     "encoding":{"x":{"field":"x","type":"quantitative"},
      "y":{"field":"n","type":"quantitative","axis":{"orient":"left","values":[0.2,0.6,1.0],"format":".1f","title":null,"tickSize":6,"offset":-6,"tickColor":"black","labelPadding":5,"labelFlush":false}}}},
    {"data":{"name":"vl"},"transform":[{"filter":"datum.p==='gSb' && datum.k==='dot'"}],"mark":{"type":"rule","color":"#000","strokeWidth":1.6,"strokeDash":[1.6,3]},"encoding":{"x":{"field":"x","type":"quantitative"},"y":{"datum":-0.03,"axis":null},"y2":{"datum":0.9}}},
    {"data":{"name":"vl"},"transform":[{"filter":"datum.p==='gSb' && datum.k==='solid'"}],"mark":{"type":"rule","color":"#000","strokeWidth":1.4},"encoding":{"x":{"field":"x","type":"quantitative"},"y":{"datum":-0.03,"axis":null},"y2":{"datum":0.9}}},
    {"data":{"values":[{}]},"mark":{"type":"rect","filled":false,"color":"#5ef02a","strokeWidth":1.5},"encoding":{"x":{"datum":11.2},"x2":{"datum":12.8},"y":{"datum":-0.03,"axis":null},"y2":{"datum":0.9}}}
   ]},
   {"width":179,"height":176,"layer":[
    {"data":{"name":"hist"},"transform":[{"filter":"datum.p==='gSa'"}],"mark":{"type":"line","interpolate":"step-after","color":"#111","strokeWidth":2,"clip":true},
     "encoding":{"x":{"field":"x","type":"quantitative","scale":{"domain":[0,16],"nice":false,"zero":false},"axis":{"values":[0,5,10,15],"title":"r₀ [kpc]","tickSize":6,"offset":-6,"tickColor":"black","labelPadding":5,"labelFlush":false,"titlePadding":2}},
      "y":{"field":"n","type":"quantitative","scale":{"domain":[-0.03,1.3],"nice":false,"zero":false},"axis":null}}},
    {"data":{"name":"vl"},"transform":[{"filter":"datum.p==='gSa' && datum.k==='dot'"}],"mark":{"type":"rule","color":"#000","strokeWidth":1.6,"strokeDash":[1.6,3]},"encoding":{"x":{"field":"x","type":"quantitative"},"y":{"datum":-0.03},"y2":{"datum":0.9}}},
    {"data":{"name":"vl"},"transform":[{"filter":"datum.p==='gSa' && datum.k==='solid'"}],"mark":{"type":"rule","color":"#000","strokeWidth":1.4},"encoding":{"x":{"field":"x","type":"quantitative"},"y":{"datum":-0.03},"y2":{"datum":0.9}}},
    {"data":{"values":[{}]},"mark":{"type":"rect","filled":false,"color":"#5ef02a","strokeWidth":1.5},"encoding":{"x":{"datum":11.2},"x2":{"datum":12.8},"y":{"datum":-0.03},"y2":{"datum":0.9}}}
   ]},
   {"width":178,"height":176,"layer":[
    {"data":{"name":"hist"},"transform":[{"filter":"datum.p==='gS0'"}],"mark":{"type":"line","interpolate":"step-after","color":"#111","strokeWidth":2,"clip":true},
     "encoding":{"x":{"field":"x","type":"quantitative","scale":{"domain":[0,16],"nice":false,"zero":false},"axis":{"values":[0,5,10,15],"title":"r₀ [kpc]","tickSize":6,"offset":-6,"tickColor":"black","labelPadding":5,"labelFlush":false,"titlePadding":2}},
      "y":{"field":"n","type":"quantitative","scale":{"domain":[-0.03,1.3],"nice":false,"zero":false},"axis":null}}},
    {"data":{"name":"vl"},"transform":[{"filter":"datum.p==='gS0' && datum.k==='dot'"}],"mark":{"type":"rule","color":"#000","strokeWidth":1.6,"strokeDash":[1.6,3]},"encoding":{"x":{"field":"x","type":"quantitative"},"y":{"datum":-0.03},"y2":{"datum":0.9}}},
    {"data":{"name":"vl"},"transform":[{"filter":"datum.p==='gS0' && datum.k==='solid'"}],"mark":{"type":"rule","color":"#000","strokeWidth":1.4},"encoding":{"x":{"field":"x","type":"quantitative"},"y":{"datum":-0.03},"y2":{"datum":0.9}}},
    {"data":{"values":[{}]},"mark":{"type":"rect","filled":false,"color":"#5ef02a","strokeWidth":1.5},"encoding":{"x":{"datum":11.2},"x2":{"datum":12.8},"y":{"datum":-0.03},"y2":{"datum":0.9}}}
   ]}
  ]},
 {"spacing":0,"bounds":"flush",
  "resolve":{"scale":{"x":"independent","y":"independent","color":"independent","strokeDash":"independent","strokeWidth":"independent"}},
  "vconcat":[
   {"width":224,"height":149,"layer":[
    {"data":{"name":"rad"},"transform":[{"filter":"datum.g==='gSb'"}],"mark":{"type":"line","clip":true},
     "encoding":{"x":{"field":"r","type":"quantitative","scale":{"domain":[0,40],"nice":false,"zero":false},"axis":null},
      "y":{"field":"v","type":"quantitative","scale":{"domain":[-10,200],"nice":false,"zero":false},"axis":{"values":[0,50,100,150],"title":"σz [km/s]","tickSize":6,"offset":-6,"tickColor":"black","labelPadding":6,"labelFlush":false}},
      "color":{"field":"t","type":"nominal","scale":{"domain":["0.0","0.4","0.6","0.8","3.0"],"range":["#ff1a1a","#ff8c1a","#72e02a","#2352ff","#000000"]},"legend":null},
      "strokeDash":{"field":"t","type":"nominal","scale":{"domain":["0.0","0.4","0.6","0.8","3.0"],"range":[[1,0],[1.5,3],[9,5],[9,3,2,3],[1,0]]},"legend":null},
      "strokeWidth":{"field":"t","type":"ordinal","scale":{"domain":["0.0","0.4","0.6","0.8","3.0"],"range":[1.4,1.6,1.6,1.6,2]},"legend":null}}},
    {"data":{"values":[{}]},"mark":{"type":"text","text":"gSb","fontSize":20,"align":"left","baseline":"middle"},"encoding":{"x":{"datum":2.6},"y":{"datum":176}}},
    {"data":{"name":"rleg"},"mark":{"type":"rule"},"encoding":{"x":{"datum":15.6},"x2":{"datum":26.3},"y":{"field":"y","type":"quantitative"},"color":{"field":"t","type":"nominal","legend":null},"strokeDash":{"field":"t","type":"nominal","legend":null},"strokeWidth":{"field":"t","type":"ordinal","legend":null}}},
    {"data":{"name":"rleg"},"mark":{"type":"text","align":"left","baseline":"middle","fontSize":13.5},"encoding":{"x":{"datum":27.2},"y":{"field":"y","type":"quantitative"},"text":{"field":"label"}}}
   ]},
   {"width":224,"height":149,"layer":[
    {"data":{"name":"rad"},"transform":[{"filter":"datum.g==='gSa'"}],"mark":{"type":"line","clip":true},
     "encoding":{"x":{"field":"r","type":"quantitative","scale":{"domain":[0,40],"nice":false,"zero":false},"axis":null},
      "y":{"field":"v","type":"quantitative","scale":{"domain":[-10,200],"nice":false,"zero":false},"axis":{"values":[0,50,100,150],"title":"σz [km/s]","tickSize":6,"offset":-6,"tickColor":"black","labelPadding":6,"labelFlush":false}},
      "color":{"field":"t","type":"nominal","scale":{"domain":["0.0","0.4","0.6","0.8","3.0"],"range":["#ff1a1a","#ff8c1a","#72e02a","#2352ff","#000000"]},"legend":null},
      "strokeDash":{"field":"t","type":"nominal","scale":{"domain":["0.0","0.4","0.6","0.8","3.0"],"range":[[1,0],[1.5,3],[9,5],[9,3,2,3],[1,0]]},"legend":null},
      "strokeWidth":{"field":"t","type":"ordinal","scale":{"domain":["0.0","0.4","0.6","0.8","3.0"],"range":[1.4,1.6,1.6,1.6,2]},"legend":null}}},
    {"data":{"values":[{}]},"mark":{"type":"text","text":"gSa","fontSize":20,"align":"left","baseline":"middle"},"encoding":{"x":{"datum":2.6},"y":{"datum":175}}}
   ]},
   {"width":224,"height":150,"layer":[
    {"data":{"name":"rad"},"transform":[{"filter":"datum.g==='gS0'"}],"mark":{"type":"line","clip":true},
     "encoding":{"x":{"field":"r","type":"quantitative","scale":{"domain":[0,40],"nice":false,"zero":false},"axis":{"values":[0,10,20,30],"title":"r [kpc]","tickSize":6,"offset":-6,"tickColor":"black","labelPadding":5,"labelFlush":false,"titlePadding":2}},
      "y":{"field":"v","type":"quantitative","scale":{"domain":[-10,200],"nice":false,"zero":false},"axis":{"values":[0,50,100,150],"title":"σz [km/s]","tickSize":6,"offset":-6,"tickColor":"black","labelPadding":6,"labelFlush":false}},
      "color":{"field":"t","type":"nominal","scale":{"domain":["0.0","0.4","0.6","0.8","3.0"],"range":["#ff1a1a","#ff8c1a","#72e02a","#2352ff","#000000"]},"legend":null},
      "strokeDash":{"field":"t","type":"nominal","scale":{"domain":["0.0","0.4","0.6","0.8","3.0"],"range":[[1,0],[1.5,3],[9,5],[9,3,2,3],[1,0]]},"legend":null},
      "strokeWidth":{"field":"t","type":"ordinal","scale":{"domain":["0.0","0.4","0.6","0.8","3.0"],"range":[1.4,1.6,1.6,1.6,2]},"legend":null}}},
    {"data":{"values":[{}]},"mark":{"type":"text","text":"gS0","fontSize":20,"align":"left","baseline":"middle"},"encoding":{"x":{"datum":2.6},"y":{"datum":177}}}
   ]}
  ]}
]
}
